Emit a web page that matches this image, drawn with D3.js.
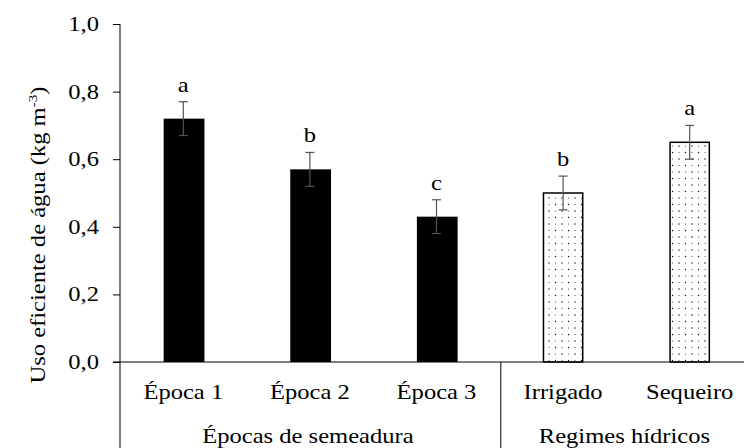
<!DOCTYPE html>
<html>
<head>
<meta charset="utf-8">
<script src="https://cdn.jsdelivr.net/npm/d3@7"></script>
<style>
  html, body { margin: 0; padding: 0; background: #fff; }
  svg { display: block; }
</style>
</head>
<body>
<script>
const categories = ["Época 1", "Época 2", "Época 3", "Irrigado", "Sequeiro"];
const values = [0.72, 0.57, 0.43, 0.50, 0.65];
const errors = [0.05, 0.05, 0.05, 0.05, 0.05];
const letters = ["a", "b", "c", "b", "a"];
const fillKinds = ["solid", "solid", "solid", "dots", "dots"];
const groupLabels = ["Épocas de semeadura", "Regimes hídricos"];
const groupSizes = [3, 2];
const yTicks = [0, 0.2, 0.4, 0.6, 0.8, 1.0];
const yTitle = "Uso eficiente de água  (kg m";
const yTitleSup = "-3";

(function () {
const W = 744, H = 448;
const mLeft = 120, mRight = 753, mTop = 24, mBase = 362;
const FS = 21, SX = 1.17;
const FONT = "Liberation Serif";

const svg = d3.select("body").append("svg").attr("width", W).attr("height", H);

const defs = svg.append("defs");
const pat = defs.append("pattern").attr("id", "dots").attr("patternUnits", "userSpaceOnUse")
  .attr("width", 13).attr("height", 13);
pat.append("rect").attr("width", 13).attr("height", 13).attr("fill", "#fff");
pat.append("circle").attr("cx", 3).attr("cy", 3).attr("r", 0.7).attr("fill", "#000");
pat.append("circle").attr("cx", 9.5).attr("cy", 9.5).attr("r", 0.7).attr("fill", "#000");
pat.append("circle").attr("cx", 9.5).attr("cy", 3).attr("r", 0.55).attr("fill", "#333");
pat.append("circle").attr("cx", 3).attr("cy", 9.5).attr("r", 0.55).attr("fill", "#333");

const x = d3.scaleBand().domain(categories).range([mLeft, mRight]).paddingInner(0.69).paddingOuter(0.345);
const y = d3.scaleLinear().domain([0, 1]).range([mBase, mTop]);

function stxt(g, tx, ty, str, anchor, extra) {
  const t = g.append("text")
    .attr("transform", `translate(${tx},${ty}) ${extra || ""} scale(${SX},1)`)
    .attr("text-anchor", anchor || "middle")
    .attr("font-size", FS)
    .style("font-family", FONT)
    .attr("fill", "#000");
  if (str !== null) t.text(str);
  return t;
}

// y axis
const yAxis = d3.axisLeft(y).tickValues(yTicks).tickSize(7).tickFormat(d => d3.format(".1f")(d).replace(".", ","));
const ya = svg.append("g").attr("transform", `translate(${mLeft},0)`).call(yAxis);
ya.select(".domain").remove();
ya.selectAll(".tick line").attr("stroke", "#000").attr("stroke-width", 1);
ya.selectAll(".tick text").remove();
yTicks.forEach(v => {
  stxt(svg, mLeft - 21, y(v) + 7, d3.format(".1f")(v).replace(".", ","), "end");
});
svg.append("line").attr("x1", mLeft).attr("x2", mLeft).attr("y1", mTop).attr("y2", H)
  .attr("stroke", "#000").attr("stroke-width", 1);

// bars
categories.forEach((c, i) => {
  const bx = x(c), bw = x.bandwidth();
  if (fillKinds[i] === "solid") {
    svg.append("rect").attr("x", bx).attr("y", y(values[i])).attr("width", bw + 1.5)
      .attr("height", y(0) - y(values[i])).attr("fill", "#000");
  } else {
    svg.append("rect").attr("x", bx).attr("y", y(values[i])).attr("width", bw)
      .attr("height", y(0) - y(values[i])).attr("fill", "url(#dots)")
      .attr("stroke", "#000").attr("stroke-width", 1.5);
  }
});

// baseline
svg.append("line").attr("x1", mLeft - 7).attr("x2", W).attr("y1", mBase).attr("y2", mBase)
  .attr("stroke", "#000").attr("stroke-width", 1);

// error bars
categories.forEach((c, i) => {
  const cx = x(c) + x.bandwidth() / 2;
  const y1 = y(values[i] + errors[i]), y2 = y(values[i] - errors[i]);
  const g = svg.append("g").attr("stroke", "#555").attr("stroke-width", 1.2);
  g.append("line").attr("x1", cx).attr("x2", cx).attr("y1", y1).attr("y2", y2);
  g.append("line").attr("x1", cx - 4.5).attr("x2", cx + 4.5).attr("y1", y1).attr("y2", y1);
  g.append("line").attr("x1", cx - 4.5).attr("x2", cx + 4.5).attr("y1", y2).attr("y2", y2);
  stxt(svg, cx, y1 - 10, letters[i], "middle");
});

// category labels
categories.forEach(c => {
  stxt(svg, x(c) + x.bandwidth() / 2, 399, c, "middle");
});

// group labels and separators
let start = 0;
groupSizes.forEach((n, gi) => {
  const first = categories[start], last = categories[start + n - 1];
  const cx = (x(first) + x(last) + x.bandwidth()) / 2;
  stxt(svg, cx - 2, 443, groupLabels[gi], "middle");
  if (gi < groupSizes.length - 1) {
    const sepX = x(last) + x.bandwidth() + x.step() * x.paddingInner() / 2 + 1;
    svg.append("line").attr("x1", sepX).attr("x2", sepX).attr("y1", mBase).attr("y2", H)
      .attr("stroke", "#000").attr("stroke-width", 1);
  }
  start += n;
});

// y title
const yt = stxt(svg, 45, 235, null, "middle", "rotate(-90)");
yt.append("tspan").text(yTitle);
yt.append("tspan").attr("font-size", 13).attr("dy", -8).text(yTitleSup);
yt.append("tspan").attr("dy", 8).text(")");
})();
</script>
</body>
</html>
